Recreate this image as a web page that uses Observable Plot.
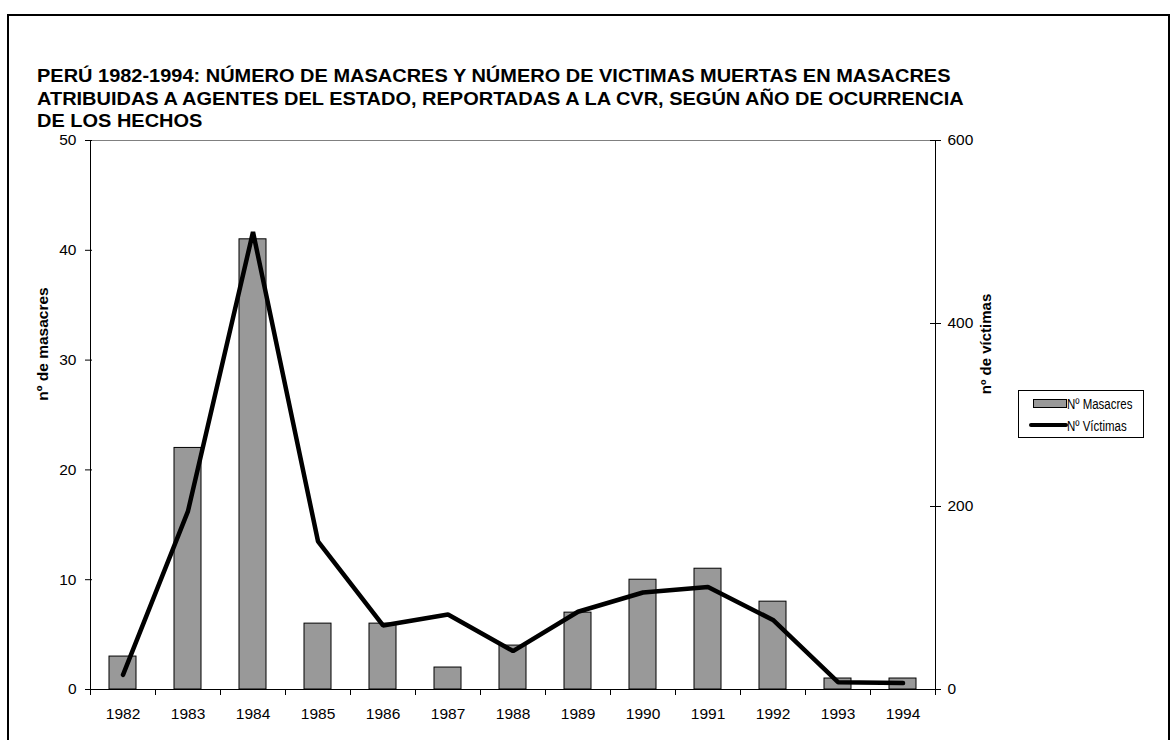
<!DOCTYPE html>
<html>
<head>
<meta charset="utf-8">
<script src="https://cdn.jsdelivr.net/npm/d3@7"></script>
<script src="https://cdn.jsdelivr.net/npm/@observablehq/plot@0.6"></script>
<style>
  html, body { margin: 0; padding: 0; background: #fff; }
  #chart { width: 1176px; height: 740px; }
  svg { display: block; }
</style>
</head>
<body>
<div id="chart"></div>
<script>
const years = [1982, 1983, 1984, 1985, 1986, 1987, 1988, 1989, 1990, 1991, 1992, 1993, 1994];
const masacres = [3, 22, 41, 6, 6, 2, 4, 7, 10, 11, 8, 1, 1];
const victimas = [16, 195, 500, 162, 70, 82, 42, 85, 106, 112, 76, 8, 7];
const leftTicks = [0, 10, 20, 30, 40, 50];
const rightTicks = [0, 200, 400, 600];
const titleLines = [
  "PERÚ 1982-1994: NÚMERO DE MASACRES Y NÚMERO DE VICTIMAS MUERTAS EN MASACRES",
  "ATRIBUIDAS A AGENTES DEL ESTADO, REPORTADAS A LA CVR, SEGÚN AÑO DE OCURRENCIA",
  "DE LOS HECHOS"
];
const leftLabel = "nº de masacres";
const rightLabel = "nº de víctimas";
const legendLabels = ["Nº Masacres", "Nº Víctimas"];

const leftMax = 50, rightMax = 600;
const ratio = rightMax / leftMax;

const data = years.map((year, i) => ({year, masacres: masacres[i], victimas: victimas[i]}));
const boundaries = years.map(y => y - 0.5).concat([years[years.length - 1] + 0.5]);

const font = "'Liberation Sans', Arial, sans-serif";
const tickFont = 15.5;

const chart = Plot.plot({
  width: 1176,
  height: 740,
  marginLeft: 90,
  marginRight: 241,
  marginTop: 140,
  marginBottom: 51,
  x: {domain: [boundaries[0], boundaries[boundaries.length - 1]]},
  y: {domain: [0, leftMax]},
  style: {fontFamily: font, fontSize: tickFont + "px", background: "white", color: "black"},
  marks: [
    Plot.ruleY([leftMax], {stroke: "#808080", strokeWidth: 1}),
    Plot.rectY(data, {
      x1: d => d.year - 0.5, x2: d => d.year + 0.5, y: "masacres",
      insetLeft: 19, insetRight: 19,
      fill: "#999999", stroke: "black", strokeWidth: 1
    }),
    Plot.ruleY([0], {stroke: "black", strokeWidth: 1}),
    Plot.ruleX([boundaries[0], boundaries[boundaries.length - 1]], {stroke: "black", strokeWidth: 1}),
    Plot.lineY(data, {x: "year", y: d => d.victimas / ratio, stroke: "black", strokeWidth: 4.5, strokeLinejoin: "miter"}),
    Plot.axisY(leftTicks, {anchor: "left", tickSize: 5, tickPadding: 9, label: null, fontSize: tickFont}),
    Plot.axisY(rightTicks.map(v => v / ratio), {anchor: "right", tickSize: 5, tickPadding: 7, label: null, fontSize: tickFont, tickFormat: d => String(Math.round(d * ratio))}),
    Plot.axisX(years, {anchor: "bottom", tickSize: 0, tickPadding: 18, label: null, fontSize: tickFont, tickFormat: d => String(d)}),
    Plot.axisX(boundaries, {anchor: "bottom", tickSize: 6, label: null, tickFormat: () => ""})
  ]
});

document.getElementById("chart").appendChild(chart);

const svg = d3.select(chart);
const xs = chart.scale("x"), ys = chart.scale("y");
const xL = xs.apply(boundaries[0]), xR = xs.apply(boundaries[boundaries.length - 1]);

// tick stubs crossing inside the axes
svg.append("g").attr("stroke", "black")
  .selectAll("line").data(leftTicks).join("line")
  .attr("x1", xL).attr("x2", xL + 2).attr("y1", d => ys.apply(d) + 0.5).attr("y2", d => ys.apply(d) + 0.5);
svg.append("g").attr("stroke", "black")
  .selectAll("line").data(rightTicks).join("line")
  .attr("x1", xR - 5).attr("x2", xR).attr("y1", d => ys.apply(d / ratio) + 0.5).attr("y2", d => ys.apply(d / ratio) + 0.5);

// outer border
svg.append("rect")
  .attr("x", 8).attr("y", 15).attr("width", 1161).attr("height", 740)
  .attr("fill", "none").attr("stroke", "black").attr("stroke-width", 2);

// title (slightly wide lettering, as in the reference)
const titleScale = 1.08;
const title = svg.append("text")
  .attr("transform", `scale(${titleScale},1)`)
  .attr("text-anchor", "start")
  .attr("font-family", font).attr("font-size", 18.5).attr("font-weight", "bold").attr("fill", "black");
titleLines.forEach((t, i) => {
  title.append("tspan").attr("x", 37 / titleScale).attr("y", 82.5 + i * 22.5).text(t);
});

// axis titles
svg.append("text")
  .attr("transform", `translate(48,344) rotate(-90)`)
  .attr("text-anchor", "middle")
  .attr("font-family", font).attr("font-size", 15.5).attr("font-weight", "bold")
  .text(leftLabel);
svg.append("text")
  .attr("transform", `translate(991,344) rotate(-90)`)
  .attr("text-anchor", "middle")
  .attr("font-family", font).attr("font-size", 15).attr("font-weight", "bold")
  .text(rightLabel);

// legend
const lg = svg.append("g");
lg.append("rect").attr("x", 1018.5).attr("y", 390.5).attr("width", 125).attr("height", 47)
  .attr("fill", "white").attr("stroke", "black");
lg.append("rect").attr("x", 1033.5).attr("y", 399.5).attr("width", 33).attr("height", 8)
  .attr("fill", "#999999").attr("stroke", "black");
lg.append("line").attr("x1", 1031).attr("x2", 1066).attr("y1", 425).attr("y2", 425)
  .attr("stroke", "black").attr("stroke-width", 4).attr("stroke-linecap", "round");
const legendScale = 0.82;
legendLabels.forEach((t, i) => {
  lg.append("text")
    .attr("transform", `translate(1067,${408.5 + i * 22}) scale(${legendScale},1)`)
    .attr("text-anchor", "start")
    .attr("font-family", font).attr("font-size", 14).attr("fill", "black").text(t);
});
</script>
</body>
</html>
